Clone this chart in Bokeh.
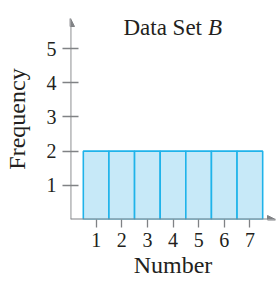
from bokeh.plotting import figure
from bokeh.models import Range1d, FixedTicker, Arrow, NormalHead, Label
from bokeh.embed import file_html
from bokeh.resources import INLINE

numbers = [1, 2, 3, 4, 5, 6, 7]
frequency = [2, 2, 2, 2, 2, 2, 2]
x_ticks = [1, 2, 3, 4, 5, 6, 7]
y_ticks = [1, 2, 3, 4, 5]
title_main = "Data Set"
title_italic = "B"
x_label = "Number"
y_label = "Frequency"

FONT = "Liberation Serif"
TXT = "#231f20"
AX = "#808285"

p = figure(width=278, height=281, output_backend="svg", toolbar_location=None,
           x_range=Range1d(0, 8.0), y_range=Range1d(0, 5.88),
           min_border_top=18, min_border_right=3, min_border_left=70, min_border_bottom=62)
p.outline_line_color = None
p.xgrid.visible = False
p.ygrid.visible = False

p.vbar(x=numbers, top=frequency, width=1, bottom=0,
       fill_color="#c7e9f8", line_color="#1fb3ea", line_width=1.6)

for ax in (p.xaxis[0], p.yaxis[0]):
    ax.axis_line_color = None
    ax.major_tick_line_color = AX
    ax.major_tick_line_width = 1.3
    ax.minor_tick_line_color = None
    ax.major_label_text_font = FONT
    ax.major_label_text_font_size = "20px"
    ax.major_label_text_color = TXT
    ax.axis_label_text_font = FONT
    ax.axis_label_text_font_size = "24px"
    ax.axis_label_text_font_style = "normal"
    ax.axis_label_text_color = TXT

p.xaxis.ticker = FixedTicker(ticks=x_ticks)
p.yaxis.ticker = FixedTicker(ticks=y_ticks)
p.xaxis.major_tick_in = 0
p.xaxis.major_tick_out = 8
p.yaxis.major_tick_in = 8
p.yaxis.major_tick_out = 8
p.xaxis.major_label_standoff = 5
p.yaxis.major_label_standoff = 6
p.xaxis.axis_label = x_label
p.yaxis.axis_label = y_label
p.xaxis.axis_label_standoff = 2
p.yaxis.axis_label_standoff = 14

p.add_layout(Arrow(end=NormalHead(size=8, fill_color=AX, line_color=AX),
                   x_start=0, y_start=0, x_end=p.x_range.end, y_end=0,
                   line_color=AX, line_width=1.8))
p.add_layout(Arrow(end=NormalHead(size=8, fill_color=AX, line_color=AX),
                   x_start=0, y_start=0, x_end=0, y_end=p.y_range.end,
                   line_color=AX, line_width=1.8))

p.add_layout(Label(x=4, y=5.61, text=title_main, text_align="right", x_offset=29,
                   text_font=FONT, text_font_size="23px", text_color=TXT,
                   text_baseline="alphabetic"))
p.add_layout(Label(x=4, y=5.61, text=title_italic, text_align="left", x_offset=35,
                   text_font=FONT, text_font_size="23px", text_font_style="italic",
                   text_color=TXT, text_baseline="alphabetic"))

open("out.html", "w").write(file_html(p, INLINE))
